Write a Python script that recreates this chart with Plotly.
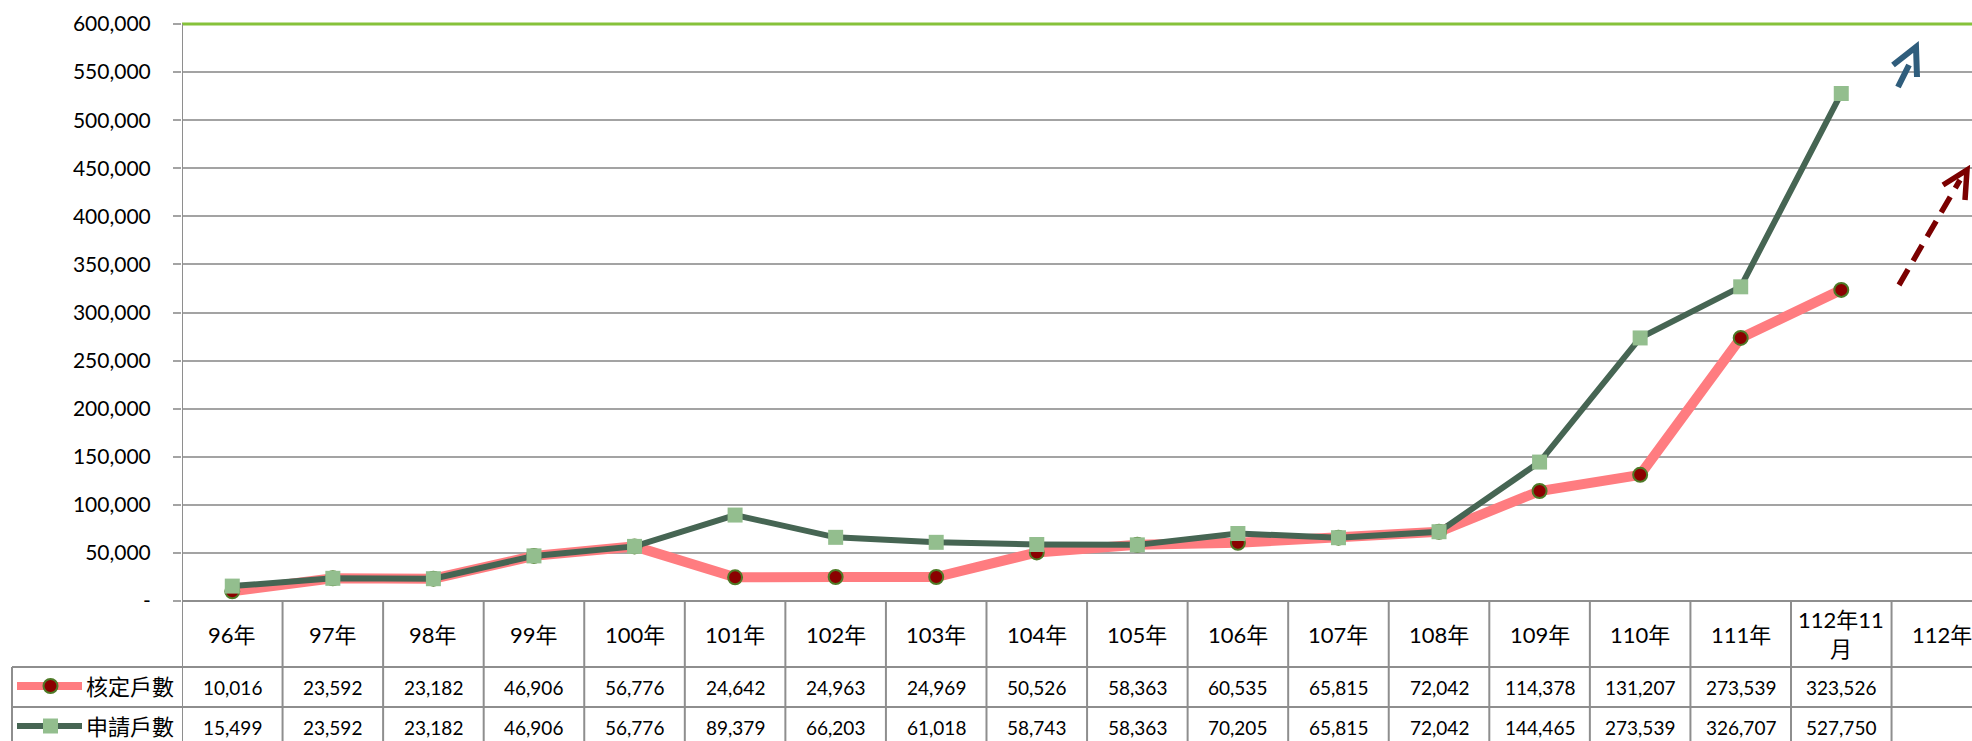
import plotly.graph_objects as go

# ---------------- data ----------------
categories = ["96年", "97年", "98年", "99年", "100年", "101年", "102年", "103年",
              "104年", "105年", "106年", "107年", "108年", "109年", "110年",
              "111年", "112年11<br>月", "112年"]
approved = [10016, 23592, 23182, 46906, 56776, 24642, 24963, 24969, 50526,
            58363, 60535, 65815, 72042, 114378, 131207, 273539, 323526, None]
applied = [15499, 23592, 23182, 46906, 56776, 89379, 66203, 61018, 58743,
           58363, 70205, 65815, 72042, 144465, 273539, 326707, 527750, None]
series_names = ["核定戶數", "申請戶數"]
y_tickvals = [0, 50000, 100000, 150000, 200000, 250000, 300000, 350000,
              400000, 450000, 500000, 550000, 600000]
y_ticktext = ["-", "50,000", "100,000", "150,000", "200,000", "250,000",
              "300,000", "350,000", "400,000", "450,000", "500,000",
              "550,000", "600,000"]

# ---------------- layout constants ----------------
W, H = 1972, 741
L, R, T, B = 182, 1972, 24, 601          # plot area in pixels
XMAX = 17.3                               # visible category range end
FONT = "Lato, 'Noto Sans CJK TC', sans-serif"
CJK = "'Noto Sans CJK TC', Lato, sans-serif"
GRID = "#A3A3A3"
TABLE = "#8E8E8E"
PINK = "#FF7C80"
DGREEN = "#466553"
SQ = "#93BE8E"
DRED = "#8B0000"
TXT = "#000000"


def px_x(px):
    return (px - L) / (R - L)


def px_y(py):
    return (B - py) / (B - T)


fig = go.Figure()
fig.add_trace(go.Scatter(
    x=categories, y=approved, name=series_names[0], mode="lines+markers",
    line=dict(color=PINK, width=10),
    marker=dict(symbol="circle", size=14, color=DRED,
                line=dict(color="#4E7A27", width=2)),
    showlegend=False, cliponaxis=False))
fig.add_trace(go.Scatter(
    x=categories, y=applied, name=series_names[1], mode="lines+markers",
    line=dict(color=DGREEN, width=6),
    marker=dict(symbol="square", size=15, color=SQ),
    showlegend=False, cliponaxis=False))

shapes = []
annotations = []

# green top gridline (paper-referenced so it is not clipped at the edge)
shapes.append(dict(type="line", xref="x", yref="paper", x0=-0.5, x1=XMAX,
                   y0=1, y1=1,
                   line=dict(color="#86C23A", width=3), layer="above"))

# left axis line through table
shapes.append(dict(type="line", xref="x", yref="paper", x0=-0.5, x1=-0.5,
                   y0=px_y(H + 5), y1=1, line=dict(color=TABLE, width=2)))
# table horizontal lines
for py, xl in [(B, L), (667, 12), (707, 12)]:
    shapes.append(dict(type="line", xref="paper", yref="paper",
                       x0=px_x(xl), x1=1, y0=px_y(py), y1=px_y(py),
                       line=dict(color=TABLE, width=2)))
# table vertical lines
for i in range(1, len(categories) + 1):
    shapes.append(dict(type="line", xref="x", yref="paper",
                       x0=i - 0.5, x1=i - 0.5, y0=px_y(H + 5), y1=0,
                       line=dict(color=TABLE, width=2)))
# legend column left border
shapes.append(dict(type="line", xref="paper", yref="paper",
                   x0=px_x(12), x1=px_x(12), y0=px_y(H + 5), y1=px_y(667),
                   line=dict(color=TABLE, width=2)))

# header row
for c in categories:
    annotations.append(dict(x=c, xref="x", y=px_y(634), yref="paper",
                            text=c, showarrow=False, xanchor="center",
                            yanchor="middle",
                            font=dict(family=FONT, size=22, color=TXT)))
# value rows
for row_y, vals in [(687, approved), (727, applied)]:
    for c, v in zip(categories, vals):
        if v is None:
            continue
        annotations.append(dict(x=c, xref="x", y=px_y(row_y), yref="paper",
                                text=f"{v:,}", showarrow=False,
                                xanchor="center", yanchor="middle",
                                font=dict(family=FONT, size=19, color=TXT)))

# legend keys inside the table
for row_y, name, lc, lw in [(686, series_names[0], PINK, 8),
                            (726, series_names[1], DGREEN, 6)]:
    shapes.append(dict(type="line", xref="paper", yref="paper",
                       x0=px_x(17), x1=px_x(82), y0=px_y(row_y),
                       y1=px_y(row_y), line=dict(color=lc, width=lw)))
    annotations.append(dict(x=px_x(84), xref="paper", y=px_y(row_y - 1),
                            yref="paper", text=name, showarrow=False,
                            xanchor="left", yanchor="middle",
                            font=dict(family=CJK, size=22, color=TXT)))
shapes.append(dict(type="circle", xref="paper", yref="paper",
                   x0=px_x(43.5), x1=px_x(57.5), y0=px_y(693), y1=px_y(679),
                   fillcolor=DRED, line=dict(color="#4E7A27", width=2)))
shapes.append(dict(type="rect", xref="paper", yref="paper",
                   x0=px_x(43), x1=px_x(58), y0=px_y(733.5), y1=px_y(718.5),
                   fillcolor=SQ, line=dict(width=0)))


def path(points):
    return "M " + " L ".join(f"{px_x(a)},{px_y(b)}" for a, b in points)


# blue arrow
BLUE = "#2F5D7C"
shapes.append(dict(type="path", xref="paper", yref="paper",
                   path=path([(1898, 87), (1909, 65)]),
                   line=dict(color=BLUE, width=6)))
shapes.append(dict(type="path", xref="paper", yref="paper",
                   path=path([(1893, 65), (1916, 47), (1917, 77)]),
                   line=dict(color=BLUE, width=6)))
# dark red dashed arrow
RED2 = "#7B0000"
shapes.append(dict(type="path", xref="paper", yref="paper",
                   path=path([(1899, 285), (1960, 180)]),
                   line=dict(color=RED2, width=5.5, dash="18px,10px")))
shapes.append(dict(type="path", xref="paper", yref="paper",
                   path=path([(1943, 185), (1967, 170), (1965, 200)]),
                   line=dict(color=RED2, width=5.5)))

fig.update_layout(
    width=W, height=H,
    margin=dict(l=L, r=W - R, t=T, b=H - B, pad=0),
    paper_bgcolor="white", plot_bgcolor="white",
    showlegend=False,
    shapes=shapes, annotations=annotations,
    xaxis=dict(type="category", categoryarray=categories,
               range=[-0.5, XMAX], showgrid=False, zeroline=False,
               showline=False, showticklabels=False, ticks=""),
    yaxis=dict(range=[0, 600000], tickvals=y_tickvals, ticktext=y_ticktext,
               showgrid=True, gridcolor=GRID, gridwidth=2, zeroline=False,
               showline=False, ticks="outside", ticklen=8, tickcolor=GRID,
               tickwidth=2, ticklabelstandoff=18,
               tickfont=dict(family=FONT, size=21, color=TXT)),
)

fig.write_html("out.html", config={"displayModeBar": False},
               post_script="document.body.style.margin='0';"
                           "document.body.style.overflow='hidden';")
